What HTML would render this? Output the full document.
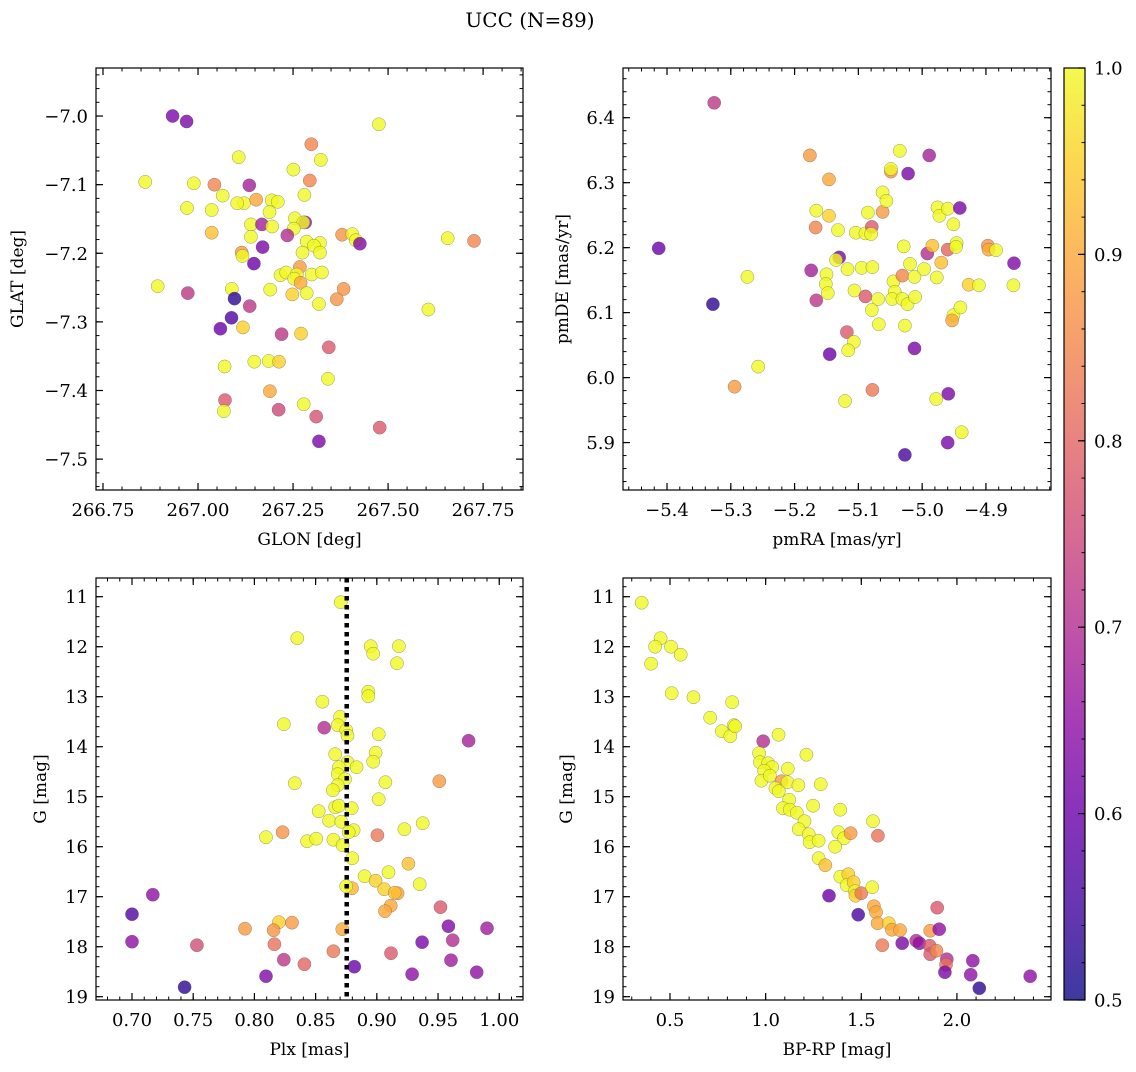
<!DOCTYPE html>
<html><head><meta charset="utf-8"><style>
body{margin:0;background:#fff;}
svg text{font-family:"DejaVu Serif","Liberation Serif",serif;fill:#000;}
</style></head><body>
<svg id="fig" width="1136" height="1067" viewBox="0 0 1136 1067" xmlns="http://www.w3.org/2000/svg">
<text x="530" y="27" font-size="20" text-anchor="middle">UCC (N=89)</text>
</svg>
<script>
// Panel 1: GLON vs GLAT
const p1Lon=[266.933,266.970,267.476,267.298,267.323,267.107,267.251,266.861,266.989,267.043,267.135,267.294,267.065,267.280,267.121,267.153,267.194,267.210,266.971,267.036,267.188,267.255,267.282,267.277,267.139,267.168,267.195,267.252,267.036,267.139,267.235,267.379,267.406,267.415,267.426,267.286,267.321,267.305,267.657,267.726,267.170,267.115,267.117,267.275,267.321,267.147,267.268,267.217,267.232,267.260,267.299,267.326,267.253,267.270,266.894,267.089,266.973,267.190,267.383,267.248,267.286,267.096,267.365,267.318,267.136,267.606,267.088,267.059,267.118,267.220,267.271,267.344,267.070,267.148,267.186,267.213,267.342,267.189,267.071,267.068,267.278,267.212,267.311,267.478,267.318,267.103];
const p1Lat=[-7.000,-7.008,-7.012,-7.041,-7.064,-7.060,-7.078,-7.096,-7.098,-7.100,-7.101,-7.094,-7.116,-7.115,-7.127,-7.122,-7.123,-7.125,-7.134,-7.137,-7.140,-7.149,-7.155,-7.155,-7.158,-7.158,-7.161,-7.164,-7.170,-7.176,-7.174,-7.173,-7.172,-7.181,-7.186,-7.183,-7.185,-7.189,-7.178,-7.182,-7.191,-7.199,-7.204,-7.199,-7.199,-7.215,-7.220,-7.232,-7.228,-7.231,-7.231,-7.228,-7.237,-7.243,-7.248,-7.252,-7.258,-7.253,-7.252,-7.260,-7.258,-7.266,-7.267,-7.274,-7.277,-7.282,-7.294,-7.310,-7.308,-7.318,-7.317,-7.337,-7.365,-7.358,-7.357,-7.358,-7.383,-7.401,-7.414,-7.430,-7.420,-7.428,-7.438,-7.454,-7.474,-7.127];
const p1Prob=[0.62,0.62,1,0.85,1,1,1,1,1,0.85,0.68,0.85,1,1,1,0.9,1,1,1,1,1,1,0.65,1,1,0.68,1,1,0.93,1,0.7,0.87,1,1,0.63,1,1,1,1,0.85,0.62,0.88,1,1,1,0.6,0.88,1,1,1,1,1,1,0.9,1,1,0.72,1,0.87,0.95,1,0.53,0.87,1,0.72,1,0.57,0.6,0.95,0.72,0.95,0.78,1,1,1,0.95,1,0.9,0.78,1,1,0.75,0.77,0.78,0.62,1];
// Panel 2: pmRA vs pmDE
const p2Ra=[-5.326,-5.413,-5.328,-5.274,-5.257,-5.294,-5.176,-5.146,-5.166,-5.146,-5.167,-5.132,-5.174,-5.166,-5.150,-5.151,-5.148,-5.130,-5.135,-5.117,-5.145,-5.118,-5.107,-5.116,-5.121,-5.078,-5.095,-5.078,-5.104,-5.089,-5.079,-5.080,-5.085,-5.062,-5.062,-5.056,-5.049,-5.049,-5.035,-5.022,-4.989,-5.106,-5.089,-5.069,-5.079,-5.068,-5.045,-5.043,-5.047,-5.031,-5.029,-5.019,-5.012,-5.031,-5.023,-5.011,-5.027,-5.012,-5.027,-4.997,-4.992,-4.984,-4.977,-4.970,-4.960,-4.976,-4.973,-4.960,-4.951,-4.946,-4.947,-4.941,-4.927,-4.911,-4.951,-4.940,-4.953,-4.978,-4.959,-4.938,-4.960,-4.897,-4.896,-4.884,-4.856,-4.857];
const p2De=[6.423,6.199,6.113,6.155,6.017,5.986,6.342,6.305,6.257,6.249,6.231,6.227,6.165,6.119,6.159,6.144,6.130,6.185,6.181,6.167,6.036,6.070,6.055,6.042,5.964,5.981,6.169,6.170,6.223,6.222,6.232,6.221,6.254,6.255,6.285,6.272,6.317,6.321,6.349,6.314,6.342,6.134,6.125,6.121,6.104,6.082,6.148,6.132,6.121,6.157,6.202,6.175,6.155,6.121,6.113,6.124,6.080,6.045,5.881,6.167,6.191,6.203,6.154,6.177,6.197,6.262,6.249,6.260,6.236,6.207,6.201,6.261,6.143,6.142,6.096,6.108,6.088,5.967,5.975,5.916,5.900,6.203,6.197,6.196,6.176,6.142];
const p2Prob=[0.72,0.6,0.53,1,1,0.88,0.88,0.9,1,0.95,0.85,1,0.68,0.72,1,1,1,0.62,1,1,0.6,0.78,1,1,1,0.83,1,1,1,1,0.78,1,1,0.88,1,1,0.87,1,1,0.62,0.68,1,0.78,1,1,1,1,1,1,0.85,1,1,1,1,1,1,1,0.62,0.56,1,0.7,0.93,1,0.93,0.8,1,1,1,1,1,1,0.62,0.95,1,1,1,0.9,1,0.62,1,0.62,0.87,0.9,1,0.63,1];
// Panel 3: Plx vs G
const p3Plx=[0.8705,0.835,0.895,0.897,0.918,0.9165,0.893,0.893,0.8555,0.824,0.857,0.870,0.868,0.875,0.876,0.9015,0.975,0.866,0.899,0.897,0.876,0.8835,0.869,0.868,0.874,0.868,0.864,0.833,0.907,0.951,0.9015,0.866,0.869,0.8795,0.8525,0.861,0.871,0.9375,0.9225,0.881,0.877,0.823,0.8095,0.9005,0.843,0.8505,0.8645,0.872,0.880,0.9258,0.9095,0.890,0.899,0.935,0.906,0.917,0.9146,0.8797,0.875,0.9113,0.9067,0.952,0.717,0.700,0.820,0.8307,0.7923,0.8157,0.8718,0.9585,0.990,0.700,0.753,0.8163,0.937,0.962,0.8645,0.9116,0.824,0.8408,0.9606,0.8816,0.8095,0.9288,0.9816,0.743];
const p3G=[11.11,11.83,11.99,12.14,11.99,12.33,12.90,12.99,13.10,13.55,13.62,13.40,13.57,13.67,13.78,13.75,13.88,14.15,14.12,14.30,14.31,14.41,14.41,14.55,14.65,14.77,14.87,14.73,14.71,14.69,15.05,15.21,15.18,15.23,15.29,15.48,15.50,15.53,15.65,15.67,15.71,15.71,15.81,15.77,15.89,15.84,15.86,15.97,16.23,16.34,16.51,16.59,16.68,16.75,16.85,16.93,16.92,16.83,16.79,17.18,17.29,17.21,16.96,17.35,17.51,17.52,17.64,17.67,17.65,17.59,17.63,17.90,17.97,17.95,17.91,17.87,18.09,18.13,18.26,18.35,18.27,18.40,18.59,18.55,18.51,18.81];
const p3Prob=[1,1,1,1,1,1,1,1,1,1,0.7,1,1,1,1,1,0.68,1,1,1,1,1,1,1,1,1,1,1,1,0.88,1,1,1,1,1,1,1,1,1,1,1,0.87,1,0.83,1,1,1,1,1,0.93,1,1,0.95,1,0.95,0.9,0.93,0.92,1,0.9,0.9,0.78,0.65,0.57,0.95,0.88,0.88,0.87,0.9,0.63,0.67,0.65,0.76,0.82,0.62,0.7,0.83,0.78,0.72,0.8,0.67,0.6,0.63,0.65,0.65,0.53];
const plxLine=0.8754;
// Panel 4: BP-RP vs G
const p4Col=[0.352,0.451,0.422,0.505,0.556,0.401,0.509,0.623,0.825,0.710,0.771,0.815,0.834,0.841,0.987,1.067,1.213,0.966,0.970,1.013,1.034,0.992,1.116,0.978,1.022,1.083,1.114,1.171,1.288,1.051,1.069,1.123,1.090,1.126,1.163,1.248,1.203,1.390,1.561,1.173,1.225,1.380,1.410,1.444,1.587,1.230,1.277,1.363,1.277,1.312,1.390,1.432,1.423,1.460,1.467,1.469,1.500,1.557,1.331,1.484,1.566,1.577,1.585,1.644,1.660,1.703,1.610,1.714,1.787,1.804,1.860,1.897,1.907,1.857,1.860,1.893,1.947,1.943,1.937,2.083,2.072,2.117,2.383];
const p4G=[11.12,11.83,12.00,12.00,12.16,12.34,12.93,13.01,13.11,13.42,13.69,13.79,13.57,13.59,13.89,13.76,14.16,14.13,14.31,14.33,14.41,14.48,14.44,14.68,14.58,14.69,14.71,14.77,14.75,14.83,14.89,15.06,15.23,15.26,15.32,15.18,15.49,15.26,15.49,15.65,15.75,15.71,15.83,15.73,15.78,15.91,15.88,16.00,16.23,16.37,16.60,16.55,16.77,16.71,16.89,16.98,16.93,16.81,16.98,17.36,17.19,17.31,17.53,17.53,17.66,17.67,17.97,17.93,17.88,17.93,17.68,17.22,17.65,17.98,18.15,18.08,18.25,18.36,18.51,18.28,18.56,18.83,18.59];
const p4Prob=[1,1,1,1,1,1,1,1,1,1,1,1,1,1,0.7,1,1,1,1,1,1,1,1,1,1,0.88,1,1,1,1,1,1,1,1,1,1,1,1,1,1,1,1,1,0.88,0.82,1,1,1,1,0.93,1,0.95,1,0.95,1,0.95,0.83,1,0.6,0.56,0.9,0.9,0.9,0.95,0.9,0.9,0.83,0.62,0.7,0.65,0.88,0.78,0.65,0.78,0.78,0.85,0.7,0.82,0.62,0.65,0.65,0.53,0.65];
// Tick labels
const p1XTicks=[266.75,267.00,267.25,267.50,267.75];
const p1YTicks=[-7.0,-7.1,-7.2,-7.3,-7.4,-7.5];
const p2XTicks=[-5.4,-5.3,-5.2,-5.1,-5.0,-4.9];
const p2YTicks=[5.9,6.0,6.1,6.2,6.3,6.4];
const p3XTicks=[0.70,0.75,0.80,0.85,0.90,0.95,1.00];
const gTicks=[11,12,13,14,15,16,17,18,19];
const p4XTicks=[0.5,1.0,1.5,2.0];
const cbTicks=[0.5,0.6,0.7,0.8,0.9,1.0];

const NS="http://www.w3.org/2000/svg";
const svg=document.getElementById('fig');
const plasma=[[13,8,135],[65,4,157],[106,0,168],[143,13,164],[177,42,144],[204,71,120],[225,100,98],[242,132,75],[252,166,54],[252,206,37],[240,249,33]];
function cmap(v){let t=(v-0.5)/0.5;t=Math.max(0,Math.min(1,t));const f=t*10,i=Math.min(9,Math.floor(f)),r=f-i;const a=plasma[i],b=plasma[i+1];return 'rgb('+a.map((c,k)=>Math.round(c+(b[k]-c)*r)).join(',')+')';}
function mk(tag,attrs,parent){const e=document.createElementNS(NS,tag);for(const k in attrs)e.setAttribute(k,attrs[k]);(parent||svg).appendChild(e);return e;}
function fmt(v,d){return (v<0?'\u2212':'')+Math.abs(v).toFixed(d);}
const TF=18, LF=17;

function panel(cfg){
  const g=mk('g',{});
  
  
  const [x0,y0,x1,y1]=cfg.box;
  const sx=v=>x0+(v-cfg.xd[0])/(cfg.xd[1]-cfg.xd[0])*(x1-x0);
  const sy=v=>cfg.yinv? y0+(v-cfg.yd[0])/(cfg.yd[1]-cfg.yd[0])*(y1-y0) : y1-(v-cfg.yd[0])/(cfg.yd[1]-cfg.yd[0])*(y1-y0);
  const pg=mk('g',{},g);
  
  
  for(let i=0;i<cfg.xs.length;i++){
    const c=mk('circle',{cx:sx(cfg.xs[i]).toFixed(1),cy:sy(cfg.ys[i]).toFixed(1),r:6.6,fill:cmap(cfg.cs[i]),'fill-opacity':0.8,stroke:'#555','stroke-opacity':0.6,'stroke-width':0.5},pg);
    
    
  }
  if(cfg.vline!==undefined){
    const l=mk('line',{x1:sx(cfg.vline),x2:sx(cfg.vline),y1:y0,y2:y1,stroke:'#000','stroke-width':4.5,'stroke-dasharray':'4.5 4.5'},g);
    
    
  }
  const fr=mk('rect',{x:x0,y:y0,width:x1-x0,height:y1-y0,fill:'none',stroke:'#000','stroke-width':1.2},g);
  
  
  const lo=Math.min(...cfg.xd),hi=Math.max(...cfg.xd);
  for(let v=Math.ceil(lo/cfg.xm-1e-6)*cfg.xm;v<=hi+1e-9;v+=cfg.xm){const X=sx(v);mk('line',{x1:X,x2:X,y1:y1,y2:y1-3.5,stroke:'#000','stroke-width':1},g);mk('line',{x1:X,x2:X,y1:y0,y2:y0+3.5,stroke:'#000','stroke-width':1},g);}
  const ylo=Math.min(...cfg.yd),yhi=Math.max(...cfg.yd);
  for(let v=Math.ceil(ylo/cfg.ym-1e-6)*cfg.ym;v<=yhi+1e-9;v+=cfg.ym){const Y=sy(v);mk('line',{x1:x0,x2:x0+3.5,y1:Y,y2:Y,stroke:'#000','stroke-width':1},g);mk('line',{x1:x1,x2:x1-3.5,y1:Y,y2:Y,stroke:'#000','stroke-width':1},g);}
  cfg.xt.forEach(v=>{const X=sx(v);mk('line',{x1:X,x2:X,y1:y1,y2:y1-7,stroke:'#000','stroke-width':1.2},g);mk('line',{x1:X,x2:X,y1:y0,y2:y0+7,stroke:'#000','stroke-width':1.2},g);
    const t=mk('text',{x:X,y:y1+26,'font-size':TF,'text-anchor':'middle'},g);t.textContent=fmt(v,cfg.xdp);
    
    });
  cfg.yt.forEach(v=>{const Y=sy(v);mk('line',{x1:x0,x2:x0+7,y1:Y,y2:Y,stroke:'#000','stroke-width':1.2},g);mk('line',{x1:x1,x2:x1-7,y1:Y,y2:Y,stroke:'#000','stroke-width':1.2},g);
    const t=mk('text',{x:x0-8,y:Y+6.5,'font-size':TF,'text-anchor':'end'},g);t.textContent=fmt(v,cfg.ydp);
    
    });
  const xl=mk('text',{x:(x0+x1)/2,y:y1+55,'font-size':LF,'text-anchor':'middle'},g);xl.textContent=cfg.xlab;
  
  
  const yl=mk('text',{x:0,y:0,'font-size':LF,'text-anchor':'middle',transform:'translate('+cfg.ylx+','+(y0+y1)/2+') rotate(-90)'},g);yl.textContent=cfg.ylab;
  
  
}
panel({name:'glon-glat-panel',box:[96,68,523,490],xd:[266.7316,267.855],yd:[-7.545,-6.930],xs:p1Lon,ys:p1Lat,cs:p1Prob,xt:p1XTicks,yt:p1YTicks,xm:0.05,ym:0.02,xdp:2,ydp:1,xlab:'GLON [deg]',ylab:'GLAT [deg]',ylx:23});
panel({name:'proper-motion-panel',box:[623,68,1051,490],xd:[-5.469,-4.798],yd:[5.827,6.4765],xs:p2Ra,ys:p2De,cs:p2Prob,xt:p2XTicks,yt:p2YTicks,xm:0.02,ym:0.02,xdp:1,ydp:1,xlab:'pmRA [mas/yr]',ylab:'pmDE [mas/yr]',ylx:568});
panel({name:'plx-g-panel',box:[96,578,523,1000],xd:[0.6706,1.0194],yd:[10.626,19.066],yinv:true,xs:p3Plx,ys:p3G,cs:p3Prob,xt:p3XTicks,yt:gTicks,xm:0.01,ym:0.2,xdp:2,ydp:0,xlab:'Plx [mas]',ylab:'G [mag]',ylx:46,vline:plxLine});
panel({name:'cmd-panel',box:[623,578,1051,1000],xd:[0.2543,2.4917],yd:[10.626,19.066],yinv:true,xs:p4Col,ys:p4G,cs:p4Prob,xt:p4XTicks,yt:gTicks,xm:0.1,ym:0.2,xdp:1,ydp:0,xlab:'BP-RP [mag]',ylab:'G [mag]',ylx:572});

(function(){
  const cb=mk('g',{});
  
  
  const defs=mk('defs',{},cb);
  const lg=mk('linearGradient',{id:'pl',x1:0,y1:1,x2:0,y2:0},defs);
  plasma.forEach((c,i)=>mk('stop',{offset:i/10,'stop-color':'rgb('+c.join(',')+')'},lg));
  const x0=1064,x1=1085,y0=68,y1=1000;
  mk('rect',{x:x0,y:y0,width:x1-x0,height:y1-y0,fill:'url(#pl)','fill-opacity':0.8},cb);
  mk('rect',{x:x0,y:y0,width:x1-x0,height:y1-y0,fill:'none',stroke:'#000','stroke-width':1.2},cb);
  const sy=v=>y1-(v-0.5)/0.5*(y1-y0);
  for(let v=0.5;v<=1.0001;v+=0.02){mk('line',{x1:x1,x2:x1-3.5,y1:sy(v),y2:sy(v),stroke:'#000','stroke-width':1},cb);}
  cbTicks.forEach(v=>{const Y=sy(v);mk('line',{x1:x1,x2:x1-7,y1:Y,y2:Y,stroke:'#000','stroke-width':1.2},cb);
    const t=mk('text',{x:x1+9,y:Y+6.5,'font-size':TF},cb);t.textContent=v.toFixed(1);
    
    });
})();
</script>
</body></html>
